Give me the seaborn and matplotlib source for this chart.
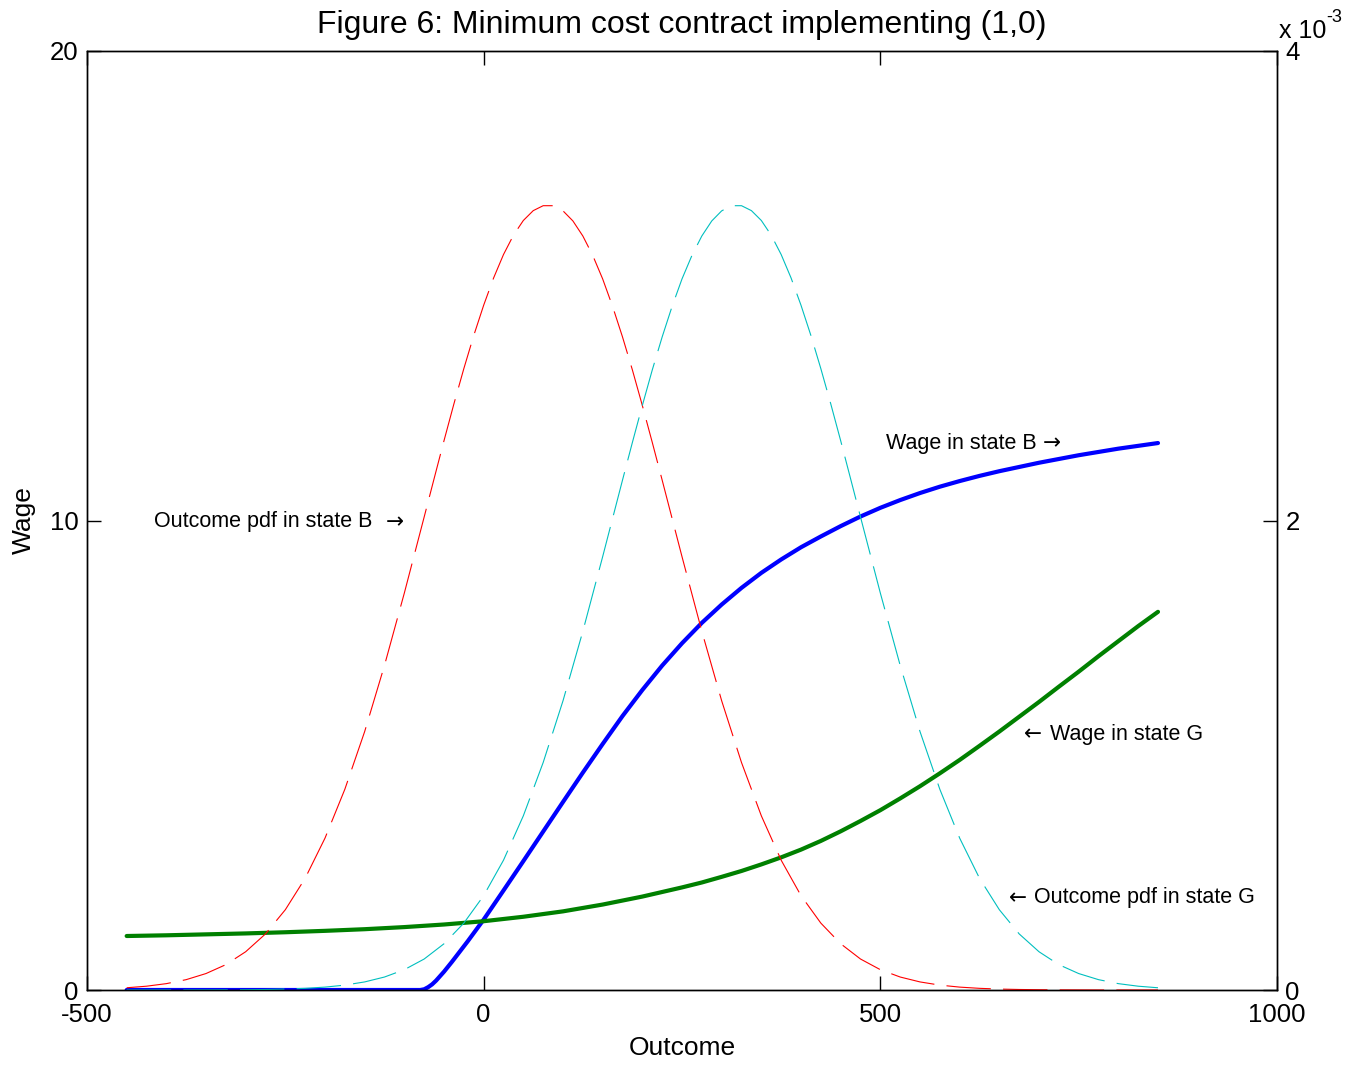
import matplotlib
matplotlib.use("Agg")
import matplotlib.pyplot as plt
import seaborn as sns
import pandas as pd

# ---------------- data ----------------
# Outcome pdf in state B (red), values in units of 1e-3 (right axis)
pdf_b_x = [-450, -425, -400, -375, -350, -325, -300, -275, -250, -225,
           -200, -175, -150, -125, -100, -75, -62.5, -50, -37.5, -25,
           -12.5, 0, 12.5, 25, 37.5, 50, 62.5, 75, 87.5, 100,
           112.5, 125, 137.5, 150, 162.5, 175, 187.5, 200, 212.5, 225,
           250, 275, 300, 325, 350, 375, 400, 425, 450, 475,
           500, 525, 550, 575, 600, 625, 650, 675, 700, 725,
           750, 775, 800, 825, 850]
pdf_state_b = [0.0095, 0.0162, 0.0271, 0.0441, 0.0701, 0.108, 0.163, 0.239, 0.342, 0.476,
               0.647, 0.855, 1.101, 1.383, 1.691, 2.015, 2.178, 2.340, 2.497, 2.647,
               2.788, 2.917, 3.033, 3.133, 3.215, 3.278, 3.320, 3.341, 3.341, 3.319,
               3.276, 3.212, 3.129, 3.029, 2.912, 2.782, 2.641, 2.490, 2.333, 2.172,
               1.846, 1.528, 1.232, 0.969, 0.742, 0.553, 0.402, 0.285, 0.197, 0.132,
               0.0866, 0.0553, 0.0344, 0.0208, 0.0123, 0.0071, 0.0040, 0.0022, 0.0012, 0.0006,
               0.0003, 0.0001, 0.0001, 0.0, 0.0]

# Outcome pdf in state G (cyan), values in units of 1e-3 (right axis)
pdf_g_x = [-450, -425, -400, -375, -350, -325, -300, -275, -250, -225,
           -200, -175, -150, -125, -100, -75, -50, -25, 0, 25,
           50, 75, 100, 125, 150, 175, 187.5, 200, 212.5, 225,
           237.5, 250, 262.5, 275, 287.5, 300, 312.5, 325, 337.5, 350,
           362.5, 375, 387.5, 400, 412.5, 425, 437.5, 450, 462.5, 475,
           500, 525, 550, 575, 600, 625, 650, 675, 700, 725,
           750, 775, 800, 825, 850]
pdf_state_g = [0.0, 0.0, 0.0001, 0.0001, 0.0003, 0.0006, 0.0012, 0.0022, 0.0040, 0.0071,
               0.0123, 0.0208, 0.0344, 0.0553, 0.0866, 0.132, 0.197, 0.285, 0.402, 0.553,
               0.742, 0.969, 1.232, 1.528, 1.846, 2.172, 2.333, 2.490, 2.641, 2.782,
               2.912, 3.029, 3.129, 3.212, 3.276, 3.319, 3.341, 3.341, 3.320, 3.278,
               3.215, 3.133, 3.033, 2.917, 2.788, 2.647, 2.497, 2.340, 2.178, 2.015,
               1.691, 1.383, 1.101, 0.855, 0.647, 0.476, 0.342, 0.239, 0.163, 0.108,
               0.0701, 0.0441, 0.0271, 0.0162, 0.0095]

# Wage in state B (blue), left axis
wage_b_x = [-450, -400, -350, -300, -250, -200, -150, -100, -80, -75,
            -70, -65, -60, -50, -40, -30, -20, -10, 0, 25,
            50, 75, 100, 125, 150, 175, 200, 225, 250, 275,
            300, 325, 350, 375, 400, 425, 450, 475, 500, 525,
            550, 575, 600, 625, 650, 675, 700, 725, 750, 775,
            800, 825, 850]
wage_state_b = [0, 0, 0, 0, 0, 0, 0, 0, 0, 0.015,
                0.06, 0.12, 0.2, 0.39, 0.6, 0.82, 1.04, 1.27, 1.5, 2.12,
                2.745, 3.375, 4.005, 4.63, 5.24, 5.835, 6.39, 6.91, 7.385, 7.82,
                8.21, 8.565, 8.885, 9.17, 9.43, 9.66, 9.88, 10.085, 10.27, 10.435,
                10.585, 10.72, 10.84, 10.95, 11.05, 11.14, 11.23, 11.31, 11.39, 11.46,
                11.53, 11.59, 11.65]

# Wage in state G (green), left axis
wage_g_x = [-450, -400, -350, -300, -250, -200, -150, -100, -50, 0,
            50, 100, 150, 200, 250, 275, 300, 325, 350, 375,
            400, 425, 450, 475, 500, 525, 550, 575, 600, 625,
            650, 675, 700, 725, 750, 775, 800, 825, 850]
wage_state_g = [1.15, 1.165, 1.185, 1.205, 1.23, 1.26, 1.295, 1.34, 1.395, 1.465,
                1.56, 1.675, 1.82, 1.99, 2.185, 2.29, 2.41, 2.535, 2.675, 2.825,
                2.99, 3.175, 3.38, 3.6, 3.83, 4.08, 4.34, 4.615, 4.90, 5.2,
                5.505, 5.82, 6.135, 6.46, 6.78, 7.11, 7.43, 7.75, 8.055]

x_ticks = [-500, 0, 500, 1000]
wage_ticks = [0, 10, 20]
pdf_ticks = [0, 2, 4]

title = "Figure 6: Minimum cost contract implementing (1,0)"
# (label, x of label, arrow, x of arrow, y)  -- y in wage units
annotations = [
    ("Outcome pdf in state B", -415, "\u2192", -124, 9.97),
    ("Wage in state B", 507, "\u2192", 705, 11.65),
    ("Wage in state G", 714, "\u2190", 681, 5.45),
    ("Outcome pdf in state G", 694, "\u2190", 662, 1.96),
]

# ---------------- style ----------------
sns.set_theme(style="white")
plt.rcParams["font.family"] = ["Liberation Sans", "DejaVu Sans"]
plt.rcParams["axes.unicode_minus"] = False

BLUE = "#0000FF"
GREEN = "#008000"
RED = "#FF0000"
CYAN = "#00BFBF"

fig = plt.figure(figsize=(13.64, 10.66), dpi=100)
ax = fig.add_axes([87 / 1364, 1 - 990 / 1066, 1190 / 1364, 939 / 1066])
ax2 = ax.twinx()

df_b = pd.DataFrame({"x": wage_b_x, "y": wage_state_b})
df_g = pd.DataFrame({"x": wage_g_x, "y": wage_state_g})
df_pb = pd.DataFrame({"x": pdf_b_x, "y": pdf_state_b})
df_pg = pd.DataFrame({"x": pdf_g_x, "y": pdf_state_g})

sns.lineplot(data=df_b, x="x", y="y", ax=ax, color=BLUE, lw=3.0, sort=False,
             estimator=None, solid_joinstyle="round")
sns.lineplot(data=df_g, x="x", y="y", ax=ax, color=GREEN, lw=3.0, sort=False,
             estimator=None, solid_joinstyle="round")
sns.lineplot(data=df_pb, x="x", y="y", ax=ax2, color=RED, lw=0.8, sort=False,
             estimator=None, linestyle=(0, (40, 11)))
sns.lineplot(data=df_pg, x="x", y="y", ax=ax2, color=CYAN, lw=0.8, sort=False,
             estimator=None, linestyle=(0, (40, 11)))

ax.set_xlim(-500, 1000)
ax.set_ylim(0, 20)
ax2.set_ylim(0, 4)
ax.set_xticks(x_ticks)
ax.set_xticklabels([str(t) for t in x_ticks])
ax.set_yticks(wage_ticks)
ax.set_yticklabels([str(t) for t in wage_ticks])
ax2.set_yticks(pdf_ticks)
ax2.set_yticklabels([str(t) for t in pdf_ticks])

for a in (ax, ax2):
    for s in a.spines.values():
        s.set_color("black")
        s.set_linewidth(1.0)
    a.grid(False)

ax.tick_params(axis="x", direction="in", top=True, bottom=True, length=10,
               width=1.0, labelsize=18.5, pad=9, colors="black")
ax.tick_params(axis="y", direction="in", left=True, right=False, length=10,
               width=1.0, labelsize=18.5, pad=6, colors="black")
ax2.tick_params(axis="y", direction="in", right=True, left=False, length=10,
                width=1.0, labelsize=18.5, pad=6, colors="black")

ax.set_xlabel("Outcome", fontsize=19, color="black", labelpad=7)
ax.set_ylabel("Wage", fontsize=19, color="black", labelpad=10)
ax2.set_ylabel("")
ax.set_title(title, fontsize=23, color="black", pad=13)

# axis multiplier for the right axis: "x 10" with raised "-3"
fig.text(1279 / 1364, 1 - 38 / 1066, "x 10", fontsize=18,
         ha="left", va="baseline", color="black")
fig.text(1326 / 1364, 1 - 22 / 1066, "-3", fontsize=13,
         ha="left", va="baseline", color="black")

for txt, xt, arrow, xa, yv in annotations:
    ax.text(xt, yv, txt, fontsize=15.5, ha="left", va="center", color="black")
    ax.text(xa, yv, arrow, fontsize=15.5, ha="left", va="center", color="black",
            family="DejaVu Sans")

fig.savefig("out.png", dpi=100)
